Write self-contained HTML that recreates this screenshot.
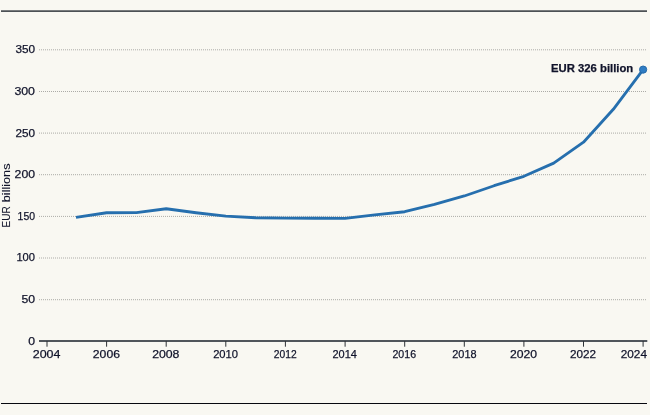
<!DOCTYPE html>
<html><head><meta charset="utf-8"><title>EUR billions chart</title>
<style>
html,body{margin:0;padding:0;background:#f9f8f2;}
body{width:650px;height:415px;overflow:hidden;position:relative;}
svg{position:absolute;left:0;top:0;display:block;will-change:transform;}
.g{stroke:rgba(0,0,0,0.31);stroke-width:1;stroke-dasharray:1 1;}
.ax{stroke:#51565b;stroke-width:2;}
.tk{stroke:#2e3236;stroke-width:1;}
.dl{fill:none;stroke:#266fae;stroke-width:2.85;stroke-linejoin:round;}
text{font-family:"Liberation Sans", Arial, sans-serif;fill:#10132a;stroke:#10132a;stroke-width:0.25px;}
.yl{font-size:11.5px;text-anchor:middle;}
.xl{font-size:11.5px;}
.ann{font-size:11px;font-weight:bold;}
.yt{font-size:11px;stroke-width:0.1px;}
.botline{position:absolute;left:1px;top:403px;width:646px;height:1px;background:#07080f;}
</style></head>
<body>
<svg width="650" height="415" viewBox="0 0 650 415">
<line x1="1" x2="647" y1="11.2" y2="11.2" stroke="#4d5256" stroke-width="1.8"/>
<line x1="39" x2="647" y1="299.7" y2="299.7" class="g"/>
<line x1="39" x2="647" y1="258.0" y2="258.0" class="g"/>
<line x1="39" x2="647" y1="216.4" y2="216.4" class="g"/>
<line x1="39" x2="647" y1="174.7" y2="174.7" class="g"/>
<line x1="39" x2="647" y1="133.1" y2="133.1" class="g"/>
<line x1="39" x2="647" y1="91.5" y2="91.5" class="g"/>
<line x1="39" x2="647" y1="49.8" y2="49.8" class="g"/>
<polyline points="76.01,217.33 106.61,212.72 136.42,212.63 166.22,208.72 196.03,212.72 225.84,216.13 255.64,217.71 285.45,218.05 315.25,218.21 345.06,218.38 374.87,214.88 404.67,211.72 434.48,204.47 464.28,195.98 494.09,185.73 523.90,176.32 553.70,163.16 583.51,142.18 613.31,109.28 643.12,69.72" class="dl"/>
<line x1="39" x2="647.3" y1="341" y2="341" class="ax"/>
<text x="31.60" y="344.7" class="yl" textLength="6.80" lengthAdjust="spacingAndGlyphs">0</text>
<text x="28.20" y="303.1" class="yl" textLength="13.60" lengthAdjust="spacingAndGlyphs">50</text>
<text x="25.70" y="261.4" class="yl" textLength="18.60" lengthAdjust="spacingAndGlyphs">100</text>
<text x="26.30" y="219.8" class="yl" textLength="17.40" lengthAdjust="spacingAndGlyphs">150</text>
<text x="24.80" y="178.1" class="yl" textLength="20.40" lengthAdjust="spacingAndGlyphs">200</text>
<text x="25.20" y="136.5" class="yl" textLength="19.60" lengthAdjust="spacingAndGlyphs">250</text>
<text x="24.70" y="94.9" class="yl" textLength="20.60" lengthAdjust="spacingAndGlyphs">300</text>
<text x="25.27" y="53.2" class="yl" textLength="19.65" lengthAdjust="spacingAndGlyphs">350</text>
<line x1="47.0" x2="47.0" y1="341" y2="346.7" class="tk"/>
<text x="46.60" y="358" class="xl" text-anchor="middle" textLength="27.70" lengthAdjust="spacingAndGlyphs">2004</text>
<line x1="106.6" x2="106.6" y1="341" y2="346.7" class="tk"/>
<text x="106.40" y="358" class="xl" text-anchor="middle" textLength="27.10" lengthAdjust="spacingAndGlyphs">2006</text>
<line x1="166.2" x2="166.2" y1="341" y2="346.7" class="tk"/>
<text x="165.80" y="358" class="xl" text-anchor="middle" textLength="27.30" lengthAdjust="spacingAndGlyphs">2008</text>
<line x1="225.8" x2="225.8" y1="341" y2="346.7" class="tk"/>
<text x="225.60" y="358" class="xl" text-anchor="middle" textLength="24.90" lengthAdjust="spacingAndGlyphs">2010</text>
<line x1="285.4" x2="285.4" y1="341" y2="346.7" class="tk"/>
<text x="285.30" y="358" class="xl" text-anchor="middle" textLength="22.90" lengthAdjust="spacingAndGlyphs">2012</text>
<line x1="345.1" x2="345.1" y1="341" y2="346.7" class="tk"/>
<text x="344.65" y="358" class="xl" text-anchor="middle" textLength="24.40" lengthAdjust="spacingAndGlyphs">2014</text>
<line x1="404.7" x2="404.7" y1="341" y2="346.7" class="tk"/>
<text x="404.25" y="358" class="xl" text-anchor="middle" textLength="23.60" lengthAdjust="spacingAndGlyphs">2016</text>
<line x1="464.3" x2="464.3" y1="341" y2="346.7" class="tk"/>
<text x="464.40" y="358" class="xl" text-anchor="middle" textLength="24.30" lengthAdjust="spacingAndGlyphs">2018</text>
<line x1="523.9" x2="523.9" y1="341" y2="346.7" class="tk"/>
<text x="523.50" y="358" class="xl" text-anchor="middle" textLength="27.10" lengthAdjust="spacingAndGlyphs">2020</text>
<line x1="583.5" x2="583.5" y1="341" y2="346.7" class="tk"/>
<text x="583.00" y="358" class="xl" text-anchor="middle" textLength="26.10" lengthAdjust="spacingAndGlyphs">2022</text>
<line x1="643.1" x2="643.1" y1="341" y2="346.7" class="tk"/>
<text x="633.85" y="358" class="xl" text-anchor="middle" textLength="26.20" lengthAdjust="spacingAndGlyphs">2024</text>
<circle cx="643.12" cy="69.6" r="3.6" fill="#2e7cc3" stroke="#2468a8" stroke-width="1"/>
<text x="551.10" y="71.9" class="ann" textLength="82.10" lengthAdjust="spacingAndGlyphs">EUR 326 billion</text>
<text transform="translate(9.6,227.50) rotate(-90)" class="yt" textLength="21.20" lengthAdjust="spacingAndGlyphs">EUR</text>
<text transform="translate(9.6,202.20) rotate(-90)" class="yt" textLength="38.70" lengthAdjust="spacingAndGlyphs">billions</text>
</svg>
<div class="botline"></div>
</body></html>
